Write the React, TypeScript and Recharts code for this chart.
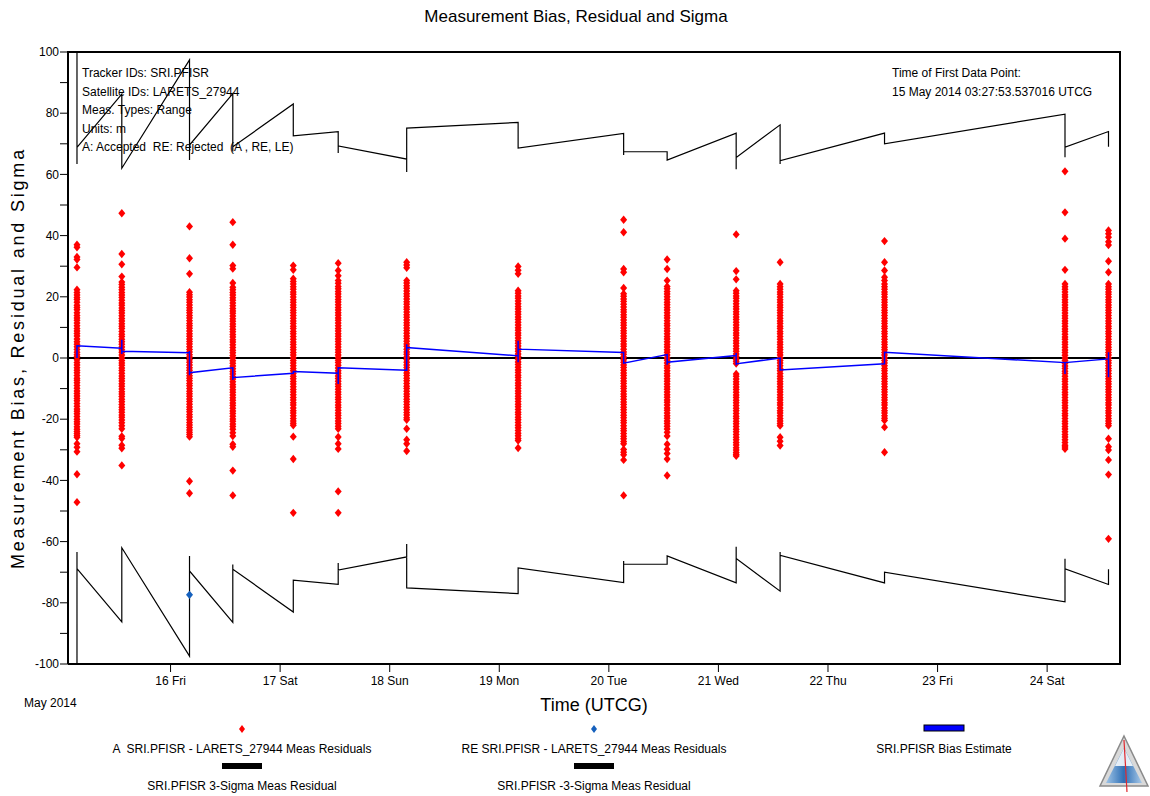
import {
  ComposedChart,
  Line,
  ReferenceLine,
  Scatter,
  XAxis,
  YAxis,
} from "recharts"

// ─── Data (x = day of May 2014, UTCG) ──────────────────────────────────────

const dayTicks = [16, 17, 18, 19, 20, 21, 22, 23, 24]
const dayLabels = ["16 Fri", "17 Sat", "18 Sun", "19 Mon", "20 Tue", "21 Wed", "22 Thu", "23 Fri", "24 Sat"]
const yTicks = [-100, -90, -80, -70, -60, -50, -40, -30, -20, -10, 0, 10, 20, 30, 40, 50, 60, 70, 80, 90, 100]

const passTimes = [
  15.146, 15.555, 16.173, 16.568, 17.12, 17.53, 18.155, 19.172,
  20.135, 20.532, 21.162, 21.563, 22.516, 24.163, 24.56,
]

// accepted residuals (m), one list per tracking pass
const pass01 = [37, 36.2, 33, 32.2, 29.6, 22.3, 21.4, 20.6, 19.8, 19.1, 18.2, 17.2, 16.5, 15.8, 14.8, 13.9, 13.1, 12.3, 11.4, 10.5, 9.6, 8.8, 8.0, 7.2, 6.2, 5.3, 4.5, 3.7, 2.8, 1.9, 1.1, 0.4, -0.6, -1.5, -2.3, -3.2, -4.0, -4.8, -5.7, -6.6, -7.3, -8.1, -9.0, -9.9, -10.8, -11.6, -12.4, -13.2, -14.0, -14.9, -15.8, -16.7, -17.4, -18.2, -19.1, -20.0, -20.8, -21.6, -22.5, -23.3, -24.0, -24.7, -25.3, -25.9, -28, -29.2, -30.6, -38, -47.1]
const pass02 = [47.3, 34, 30.6, 26.6, 24.8, 24.0, 23.1, 22.3, 21.4, 20.6, 19.8, 18.9, 18.0, 17.2, 16.3, 15.5, 14.7, 13.8, 12.9, 12.1, 11.2, 10.4, 9.6, 8.7, 7.8, 7.0, 6.1, 5.3, 4.5, 3.6, 2.7, 1.9, 1.0, 0.1, -0.8, -1.6, -2.4, -3.3, -4.1, -5.0, -5.9, -6.7, -7.5, -8.4, -9.2, -10.1, -11.0, -11.8, -12.6, -13.5, -14.3, -15.2, -16.1, -16.9, -17.7, -18.6, -19.4, -20.3, -21.2, -22.1, -23.1, -25.6, -26.3, -28.5, -29.5, -35.1]
const pass03 = [43, 32.6, 27.5, 21.5, 20.7, 19.9, 19.0, 18.2, 17.3, 16.4, 15.6, 14.8, 13.9, 13.1, 12.2, 11.3, 10.5, 9.7, 8.8, 7.9, 7.1, 6.2, 5.4, 4.6, 3.7, 2.8, 2.0, 1.1, 0.3, -0.6, -1.4, -2.3, -3.2, -4.0, -4.9, -5.8, -6.6, -7.4, -8.3, -9.1, -10.0, -10.9, -11.7, -12.5, -13.4, -14.2, -15.1, -16.0, -16.8, -17.6, -18.5, -19.3, -20.2, -21.1, -21.9, -22.7, -23.5, -24.3, -25.0, -25.7, -40.3, -44.2]
const pass04 = [44.4, 37, 30.2, 29.2, 24.5, 23.1, 22.3, 21.4, 20.6, 19.7, 18.9, 18.0, 17.1, 16.2, 15.4, 14.6, 13.7, 12.8, 12.0, 11.1, 10.3, 9.4, 8.6, 7.7, 6.9, 6.0, 5.2, 4.3, 3.4, 2.5, 1.7, 0.8, 0, -0.9, -1.7, -2.6, -3.5, -4.4, -5.2, -6.1, -6.9, -7.8, -8.7, -9.5, -10.4, -11.2, -12.1, -13.0, -13.8, -14.7, -15.5, -16.4, -17.3, -18.1, -19.0, -19.9, -20.7, -21.6, -22.4, -23.3, -24.4, -25.5, -28.2, -29, -36.8, -44.9]
const pass05 = [30.2, 28.8, 25.9, 25.0, 24.2, 23.3, 22.5, 21.6, 20.8, 19.9, 19.0, 18.2, 17.3, 16.5, 15.6, 14.8, 13.9, 13.0, 12.1, 11.3, 10.4, 9.6, 8.7, 7.9, 7.0, 6.1, 5.2, 4.4, 3.5, 2.7, 1.8, 1.0, 0.1, -0.8, -1.6, -2.5, -3.4, -4.2, -5.1, -6.0, -6.8, -7.7, -8.5, -9.4, -10.3, -11.1, -12.0, -12.9, -13.7, -14.6, -15.4, -16.3, -17.2, -18.0, -18.9, -19.8, -20.6, -21.3, -22.0, -25.7, -33, -50.6]
const pass06 = [31, 28.6, 26.9, 25.3, 24.4, 23.4, 22.6, 21.7, 20.9, 20.0, 19.1, 18.3, 17.4, 16.5, 15.7, 14.8, 14.0, 13.1, 12.3, 11.4, 10.5, 9.6, 8.8, 7.9, 7.1, 6.2, 5.4, 4.5, 3.6, 2.7, 1.9, 1.0, 0.2, -0.7, -1.5, -2.4, -3.3, -4.2, -5.0, -5.9, -6.7, -7.6, -8.5, -9.3, -10.2, -11.1, -11.9, -12.8, -13.6, -14.5, -15.4, -16.2, -17.1, -18.0, -18.8, -19.7, -20.6, -21.4, -22.3, -23.1, -25.8, -28, -29.7, -43.6, -50.6]
const pass07 = [31.3, 30.4, 29.5, 25.3, 24.5, 23.6, 22.8, 21.9, 21.0, 20.2, 19.3, 18.4, 17.6, 16.7, 15.9, 15.0, 14.1, 13.3, 12.4, 11.5, 10.7, 9.8, 9.0, 8.1, 7.2, 6.4, 5.5, 4.6, 3.8, 2.9, 2.0, 1.2, 0.3, -0.5, -1.4, -2.3, -3.1, -4.0, -4.9, -5.7, -6.6, -7.4, -8.3, -9.2, -10.0, -10.9, -11.8, -12.6, -13.5, -14.3, -15.2, -16.1, -16.9, -17.8, -18.6, -19.5, -20.2, -23.1, -26.7, -28, -30.4]
const pass08 = [29.9, 28.7, 27.5, 22.0, 21.2, 20.3, 19.5, 18.6, 17.7, 16.8, 16.0, 15.1, 14.3, 13.4, 12.6, 11.7, 10.8, 9.9, 9.1, 8.2, 7.4, 6.5, 5.6, 4.8, 3.9, 3.0, 2.2, 1.3, 0.5, -0.4, -1.3, -2.1, -3.0, -3.9, -4.7, -5.6, -6.4, -7.3, -8.2, -9.0, -9.9, -10.8, -11.6, -12.5, -13.3, -14.2, -15.1, -15.9, -16.8, -17.7, -18.5, -19.4, -20.2, -21.1, -22.0, -22.8, -23.7, -24.6, -25.4, -26.3, -27.0, -29.4]
const pass09 = [45.2, 41.1, 29.1, 28, 22.9, 21.0, 20.2, 19.3, 18.5, 17.6, 16.7, 15.8, 15.0, 14.1, 13.3, 12.4, 11.5, 10.7, 9.8, 8.9, 8.1, 7.2, 6.4, 5.5, 4.6, 3.8, 2.9, 2.0, 1.2, 0.3, -0.6, -1.4, -2.3, -3.1, -4.0, -4.9, -5.7, -6.6, -7.5, -8.3, -9.2, -10.0, -10.9, -11.8, -12.6, -13.5, -14.4, -15.2, -16.1, -16.9, -17.8, -18.7, -19.5, -20.4, -21.2, -22.1, -23.0, -23.8, -24.7, -25.6, -26.4, -27.3, -28.0, -29.9, -30.8, -31.6, -33.3, -44.9]
const pass10 = [32.2, 29.1, 25.3, 23.4, 22.6, 21.7, 20.9, 20.0, 19.1, 18.2, 17.4, 16.5, 15.7, 14.8, 13.9, 13.1, 12.2, 11.3, 10.5, 9.6, 8.8, 7.9, 7.0, 6.2, 5.3, 4.4, 3.6, 2.7, 1.9, 1.0, 0.1, -0.7, -1.6, -2.5, -3.3, -4.2, -5.1, -5.9, -6.8, -7.6, -8.5, -9.4, -10.2, -11.1, -12.0, -12.8, -13.7, -14.5, -15.4, -16.3, -17.1, -18.0, -18.9, -19.7, -20.6, -21.4, -22.3, -23.2, -24.3, -25.5, -28.2, -29.8, -31.2, -33, -38.4]
const pass11 = [40.4, 28.4, 25.7, 22.0, 21.2, 20.3, 19.5, 18.6, 17.7, 16.8, 16.0, 15.1, 14.3, 13.4, 12.6, 11.7, 10.8, 9.9, 9.1, 8.2, 7.4, 6.5, 5.6, 4.8, 3.9, 3.0, 2.2, 1.3, 0.5, -0.4, -1.1, -1.8, -5.2, -6.0, -6.9, -7.8, -8.6, -9.5, -10.3, -11.2, -12.1, -12.9, -13.8, -14.6, -15.5, -16.4, -17.2, -18.1, -19.0, -19.8, -20.7, -21.5, -22.4, -23.3, -24.1, -25.0, -25.9, -26.7, -27.6, -28.4, -29.3, -30.1, -30.9, -31.5, -32.0]
const pass12 = [31.3, 24.2, 23.3, 22.5, 21.6, 20.8, 19.9, 19.0, 18.2, 17.3, 16.5, 15.6, 14.8, 13.9, 13.0, 12.1, 11.3, 10.4, 9.6, 8.7, 7.9, 7.0, 6.1, 5.2, 4.4, 3.5, 2.7, 1.8, 1.0, 0.1, -0.8, -1.6, -2.5, -3.4, -4.2, -5.1, -6.0, -6.8, -7.7, -8.5, -9.4, -10.3, -11.1, -12.0, -12.9, -13.7, -14.6, -15.4, -16.3, -17.2, -18.0, -18.9, -19.8, -20.6, -21.4, -22.1, -25.9, -27.2, -28.6]
const pass13 = [38.2, 31.3, 28.6, 26.4, 25.3, 24.2, 23.3, 22.5, 21.6, 20.8, 19.9, 19.0, 18.2, 17.3, 16.5, 15.6, 14.8, 13.9, 13.0, 12.1, 11.3, 10.4, 9.6, 8.7, 7.9, 7.0, 6.1, 5.2, 4.4, 3.5, 2.7, 1.8, 1.0, 0.1, -0.8, -1.6, -2.5, -3.4, -4.2, -5.1, -6.0, -6.8, -7.7, -8.5, -9.4, -10.3, -11.1, -12.0, -12.9, -13.7, -14.6, -15.4, -16.3, -17.2, -18.0, -18.9, -19.7, -20.4, -22.6, -30.8]
const pass14 = [61, 47.6, 39, 28.8, 24.2, 23.3, 22.5, 21.6, 20.7, 19.9, 19.0, 18.2, 17.3, 16.4, 15.6, 14.7, 13.8, 13.0, 12.1, 11.3, 10.4, 9.5, 8.7, 7.8, 6.9, 6.1, 5.2, 4.4, 3.5, 2.6, 1.8, 0.9, 0, -0.8, -1.7, -2.6, -3.4, -4.3, -5.1, -6.0, -6.9, -7.7, -8.6, -9.5, -10.3, -11.2, -12.0, -12.9, -13.8, -14.6, -15.5, -16.3, -17.2, -18.1, -18.9, -19.8, -20.7, -21.5, -22.4, -23.2, -24.1, -25.0, -25.8, -26.7, -27.6, -28.5, -29.1, -29.7]
const pass15 = [41.7, 40.6, 39.5, 38, 36.9, 31.6, 28, 24.2, 23.3, 22.5, 21.6, 20.8, 19.9, 19.0, 18.2, 17.3, 16.5, 15.6, 14.8, 13.9, 13.0, 12.1, 11.3, 10.4, 9.6, 8.7, 7.9, 7.0, 6.1, 5.2, 4.4, 3.5, 2.7, 1.8, 1.0, 0.1, -0.8, -1.6, -2.5, -3.4, -4.2, -5.1, -6.0, -6.8, -7.7, -8.5, -9.4, -10.3, -11.1, -12.0, -12.9, -13.7, -14.6, -15.4, -16.3, -17.2, -18.0, -18.9, -19.8, -20.6, -21.4, -22.1, -26.4, -29, -30.1, -33.3, -38.1, -59.1]

const passResiduals = [
  pass01, pass02, pass03, pass04, pass05, pass06, pass07, pass08,
  pass09, pass10, pass11, pass12, pass13, pass14, pass15,
]

// rejected residual
const rejected: [number, number][] = [[16.173, -77.4]]

// 3-sigma envelope (starts far off-scale at the first point)
const sigmaUpper: [number, number][] = [
  [15.146, 400], [15.146, 63.4], [15.146, 80.5], [15.146, 68.8],
  [15.555, 86.2], [15.555, 62],
  [16.173, 97.4], [16.173, 64.7], [16.173, 69.6],
  [16.568, 86.4], [16.568, 67.5], [16.568, 69],
  [17.12, 83], [17.12, 72.6],
  [17.53, 74], [17.53, 67], [17.53, 69.3],
  [18.155, 65], [18.155, 60.8], [18.155, 75.1],
  [19.172, 77], [19.172, 68.6],
  [20.135, 73.4], [20.135, 66.3], [20.135, 67.4],
  [20.532, 67.4], [20.532, 64.7],
  [21.162, 73.5], [21.162, 61.7], [21.162, 65.5],
  [21.563, 76.2], [21.563, 63.4], [21.563, 64.5],
  [22.516, 73.5], [22.516, 70],
  [24.163, 79.7], [24.163, 65.6], [24.163, 68.9],
  [24.56, 74], [24.56, 69],
]

const sigmaLower: [number, number][] = [
  [15.146, -400], [15.146, -63.4], [15.146, -80.5], [15.146, -68.8],
  [15.555, -86.2], [15.555, -62],
  [16.173, -97.4], [16.173, -64.7], [16.173, -69.6],
  [16.568, -86.4], [16.568, -67.5], [16.568, -69],
  [17.12, -83], [17.12, -72.6],
  [17.53, -74], [17.53, -67], [17.53, -69.3],
  [18.155, -65], [18.155, -60.8], [18.155, -75.1],
  [19.172, -77], [19.172, -68.6],
  [20.135, -73.4], [20.135, -66.3], [20.135, -67.4],
  [20.532, -67.4], [20.532, -64.7],
  [21.162, -73.5], [21.162, -61.7], [21.162, -65.5],
  [21.563, -76.2], [21.563, -63.4], [21.563, -64.5],
  [22.516, -73.5], [22.516, -70],
  [24.163, -79.7], [24.163, -65.6], [24.163, -68.9],
  [24.56, -74], [24.56, -69],
]

const biasEstimate: [number, number][] = [
  [15.146, 0], [15.146, 4],
  [15.555, 3.2], [15.555, 6], [15.555, 1.3], [15.555, 2.2],
  [16.173, 1.7], [16.173, 2.3], [16.173, -5.6], [16.173, -4.8],
  [16.568, -3.2], [16.568, -7.2], [16.568, -6.4],
  [17.12, -5], [17.12, -4.4],
  [17.53, -5], [17.53, -8.5], [17.53, -3.2],
  [18.155, -4], [18.155, 4.5], [18.155, 3.4],
  [19.172, 0.7], [19.172, -1.4], [19.172, 5.6], [19.172, 2.9],
  [20.135, 1.8], [20.135, -1.7],
  [20.532, 1.1], [20.532, -2.2], [20.532, -1.4],
  [21.162, 0.8], [21.162, 1.6], [21.162, -2.4], [21.162, -1.9],
  [21.563, 0], [21.563, -3.9],
  [22.516, -1.9], [22.516, 1.9],
  [24.163, -1.5], [24.163, -5.2], [24.163, -1.5],
  [24.56, -0.3], [24.56, 1.9], [24.56, -6.3],
]

const annotationLines = [
  "Tracker IDs: SRI.PFISR",
  "Satellite IDs: LARETS_27944",
  "Meas. Types: Range",
  "Units: m",
  "A: Accepted  RE: Rejected  (A , RE, LE)",
]

// ───────────────────────────────────────────────────────────────────────────

const FONT = '"Liberation Sans", Arial, Helvetica, sans-serif'
const PRE = { whiteSpace: "pre" as const }

const toPoints = (pairs: [number, number][]) => pairs.map(([x, y]) => ({ x, y }))

const residualPoints = passResiduals.flatMap((vals, i) =>
  vals.map((y) => ({ x: passTimes[i], y })),
)

function Diamond(props: { cx?: number; cy?: number; fill?: string }) {
  const { cx = 0, cy = 0, fill = "#ff0000" } = props
  return (
    <polygon
      points={`${cx},${cy - 4.2} ${cx + 3.5},${cy} ${cx},${cy + 4.2} ${cx - 3.5},${cy}`}
      fill={fill}
    />
  )
}

function LegendDiamond({ x, y, fill }: { x: number; y: number; fill: string }) {
  return <polygon points={`${x},${y - 4} ${x + 3},${y} ${x},${y + 4} ${x - 3},${y}`} fill={fill} />
}

export default function App() {
  return (
    <div style={{ position: "absolute", left: 0, top: 0, width: 1150, height: 796, background: "#fff", fontFamily: FONT }}>
      <ComposedChart width={1150} height={796} margin={{ top: 52, right: 30, bottom: 102, left: 8 }}>
        <XAxis
          type="number"
          dataKey="x"
          domain={[15.064, 24.665]}
          allowDataOverflow
          ticks={dayTicks}
          tickFormatter={(v: number) => dayLabels[dayTicks.indexOf(v)] ?? ""}
          height={30}
          tickSize={8}
          tickMargin={4}
          axisLine={{ stroke: "#000", strokeWidth: 2 }}
          tickLine={{ stroke: "#000" }}
          tick={{ fill: "#000", fontSize: 12, fontFamily: FONT }}
        />
        <YAxis
          type="number"
          dataKey="y"
          domain={[-100, 100]}
          allowDataOverflow
          ticks={yTicks}
          interval={0}
          tickFormatter={(v: number) => (v % 20 === 0 ? String(v) : "")}
          width={60}
          tickSize={8}
          tickMargin={1}
          axisLine={{ stroke: "#000", strokeWidth: 2 }}
          tickLine={{ stroke: "#000" }}
          tick={{ fill: "#000", fontSize: 12, fontFamily: FONT }}
        />
        <ReferenceLine y={0} stroke="#000" strokeWidth={2} />
        <Line
          data={toPoints(sigmaUpper)}
          dataKey="y"
          type="linear"
          stroke="#000"
          strokeWidth={1.2}
          dot={false}
          isAnimationActive={false}
        />
        <Line
          data={toPoints(sigmaLower)}
          dataKey="y"
          type="linear"
          stroke="#000"
          strokeWidth={1.2}
          dot={false}
          isAnimationActive={false}
        />
        <Scatter
          data={residualPoints}
          dataKey="y"
          fill="#ff0000"
          shape={<Diamond />}
          isAnimationActive={false}
        />
        <Scatter
          data={toPoints(rejected)}
          dataKey="y"
          fill="#1560bd"
          shape={<Diamond />}
          isAnimationActive={false}
        />
        <Line
          data={toPoints(biasEstimate)}
          dataKey="y"
          type="linear"
          stroke="#0000ff"
          strokeWidth={1.5}
          dot={false}
          zIndex={1000}
          isAnimationActive={false}
        />
      </ComposedChart>

      {/* ─── Overlay: frame, titles, annotations, legend ─── */}
      <svg
        width={1150}
        height={796}
        style={{ position: "absolute", left: 0, top: 0, pointerEvents: "none" }}
        fontFamily={FONT}
      >
        <line x1={67} y1={52} x2={1121} y2={52} stroke="#000" strokeWidth={2} />
        <line x1={1120} y1={51} x2={1120} y2={665} stroke="#000" strokeWidth={2} />

        <text x={576} y={22} textAnchor="middle" fontSize={17} fill="#000">
          Measurement Bias, Residual and Sigma
        </text>
        <text
          x={24}
          y={358}
          transform="rotate(-90 24 358)"
          textAnchor="middle"
          fontSize={18}
          letterSpacing={2.8}
          fill="#000"
        >
          Measurement Bias, Residual and Sigma
        </text>

        {annotationLines.map((line, i) => (
          <text key={i} x={82} y={77 + i * 18.6} fontSize={12} fill="#000" style={PRE}>
            {line}
          </text>
        ))}
        <text x={892} y={77} fontSize={12} fill="#000">Time of First Data Point:</text>
        <text x={892} y={96} fontSize={12} fill="#000">15 May 2014 03:27:53.537016 UTCG</text>

        <text x={24} y={707} fontSize={12} fill="#000">May 2014</text>
        <text x={594} y={711} textAnchor="middle" fontSize={18} fill="#000">Time (UTCG)</text>

        {/* legend row 1 */}
        <LegendDiamond x={242} y={729} fill="#ff0000" />
        <text x={242} y={753} textAnchor="middle" fontSize={12} fill="#000" style={PRE}>
          {"A  SRI.PFISR - LARETS_27944 Meas Residuals"}
        </text>
        <LegendDiamond x={594} y={729} fill="#1560bd" />
        <text x={594} y={753} textAnchor="middle" fontSize={12} fill="#000">
          RE SRI.PFISR - LARETS_27944 Meas Residuals
        </text>
        <rect x={924} y={725} width={40} height={6} fill="#0000ff" stroke="#000" strokeWidth={1} />
        <text x={944} y={753} textAnchor="middle" fontSize={12} fill="#000">
          SRI.PFISR Bias Estimate
        </text>

        {/* legend row 2 */}
        <rect x={222} y={763} width={40} height={6} fill="#000" />
        <text x={242} y={790} textAnchor="middle" fontSize={12} fill="#000">
          SRI.PFISR 3-Sigma Meas Residual
        </text>
        <rect x={574} y={763} width={40} height={6} fill="#000" />
        <text x={594} y={790} textAnchor="middle" fontSize={12} fill="#000">
          SRI.PFISR -3-Sigma Meas Residual
        </text>

        {/* logo */}
        <defs>
          <linearGradient id="logoFill" x1="0" y1="0" x2="1" y2="0">
            <stop offset="0%" stopColor="#9fc4e6" />
            <stop offset="50%" stopColor="#2f6fb5" />
            <stop offset="100%" stopColor="#a9c9e8" />
          </linearGradient>
        </defs>
        <polygon points="1124,736 1148,786 1100,786" fill="#d9d9d9" stroke="#8a8a8a" strokeWidth={1.5} />
        <polygon points="1124,748 1142,783 1106,783" fill="url(#logoFill)" />
        <polygon points="1124,748 1133,766 1115,766" fill="#ffffff" opacity={0.85} />
        <line x1={1124} y1={740} x2={1127} y2={792} stroke="#e0282e" strokeWidth={1.2} />
      </svg>
    </div>
  )
}
